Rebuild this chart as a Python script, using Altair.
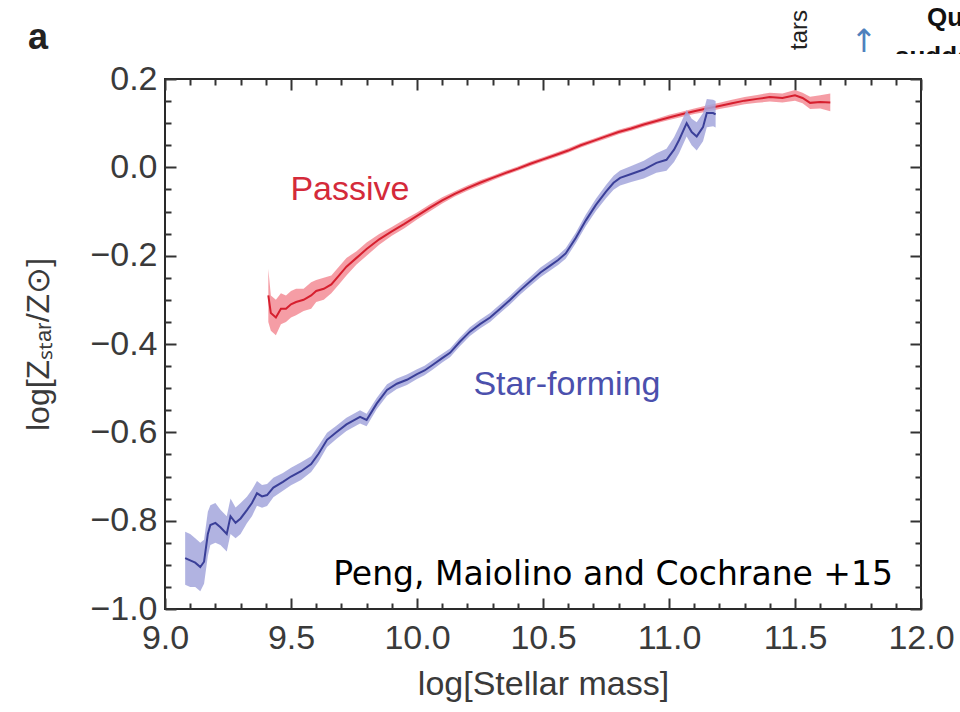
import altair as alt
import pandas as pd

# ---- data ----
red_mass = [9.41, 9.42, 9.44, 9.46, 9.48, 9.50, 9.52, 9.55, 9.58, 9.60, 9.63, 9.66, 9.69, 9.72,
            9.76, 9.80, 9.85, 9.90, 9.95, 10.00, 10.05, 10.10, 10.15, 10.20, 10.25, 10.30, 10.35,
            10.40, 10.45, 10.50, 10.55, 10.60, 10.65, 10.70, 10.75, 10.80, 10.85, 10.90, 10.95,
            11.00, 11.05, 11.10, 11.15, 11.20, 11.25, 11.30, 11.35, 11.40, 11.45, 11.50, 11.53,
            11.56, 11.60, 11.64]
red_z = [-0.29, -0.33, -0.34, -0.32, -0.32, -0.31, -0.305, -0.30, -0.29, -0.28, -0.275, -0.265,
         -0.245, -0.225, -0.205, -0.185, -0.163, -0.145, -0.128, -0.110, -0.092, -0.075, -0.060,
         -0.047, -0.035, -0.024, -0.013, -0.003, 0.008, 0.018, 0.028, 0.038, 0.050, 0.060, 0.070,
         0.080, 0.088, 0.097, 0.105, 0.113, 0.120, 0.127, 0.133, 0.139, 0.145, 0.151, 0.155,
         0.159, 0.157, 0.163, 0.157, 0.146, 0.148, 0.147]
red_err = [0.06, 0.04, 0.04, 0.035, 0.03, 0.03, 0.03, 0.025, 0.03, 0.025, 0.025, 0.02, 0.02, 0.02,
           0.015, 0.015, 0.012, 0.010, 0.010, 0.008, 0.008, 0.007, 0.006, 0.006, 0.006, 0.005,
           0.005, 0.005, 0.005, 0.005, 0.005, 0.005, 0.005, 0.005, 0.005, 0.005, 0.005, 0.005,
           0.005, 0.006, 0.006, 0.006, 0.007, 0.007, 0.008, 0.008, 0.009, 0.010, 0.010, 0.012,
           0.012, 0.014, 0.015, 0.020]

blue_mass = [9.08, 9.10, 9.12, 9.14, 9.155, 9.17, 9.18, 9.20, 9.22, 9.245, 9.26, 9.28, 9.30,
             9.325, 9.345, 9.365, 9.385, 9.405, 9.43, 9.468, 9.50, 9.54, 9.58, 9.61, 9.643, 9.68,
             9.72, 9.774, 9.80, 9.84, 9.881, 9.92, 9.96, 10.00, 10.03, 10.063, 10.10, 10.131,
             10.17, 10.21, 10.25, 10.29, 10.33, 10.37, 10.41, 10.45, 10.49, 10.53, 10.56, 10.59,
             10.63, 10.67, 10.71, 10.75, 10.78, 10.806, 10.85, 10.90, 10.95, 10.99, 11.02, 11.04,
             11.07, 11.09, 11.11, 11.135, 11.15, 11.175, 11.185]
blue_z = [-0.885, -0.89, -0.895, -0.905, -0.893, -0.83, -0.81, -0.805, -0.815, -0.83, -0.79,
          -0.805, -0.795, -0.776, -0.76, -0.738, -0.745, -0.742, -0.725, -0.712, -0.70, -0.688,
          -0.672, -0.648, -0.617, -0.600, -0.582, -0.565, -0.572, -0.535, -0.504, -0.49, -0.481,
          -0.468, -0.46, -0.447, -0.432, -0.42, -0.395, -0.372, -0.355, -0.34, -0.32, -0.30,
          -0.278, -0.258, -0.238, -0.222, -0.21, -0.195, -0.16, -0.12, -0.085, -0.055, -0.035,
          -0.024, -0.015, -0.005, 0.01, 0.017, 0.04, 0.062, 0.10, 0.08, 0.07, 0.091, 0.123,
          0.123, 0.12]
blue_err = [0.06, 0.06, 0.055, 0.055, 0.05, 0.05, 0.045, 0.045, 0.04, 0.04, 0.04, 0.035, 0.035,
            0.03, 0.03, 0.028, 0.026, 0.025, 0.022, 0.02, 0.02, 0.02, 0.018, 0.018, 0.016, 0.015,
            0.015, 0.015, 0.014, 0.013, 0.013, 0.012, 0.012, 0.011, 0.011, 0.011, 0.010, 0.010,
            0.010, 0.010, 0.010, 0.010, 0.010, 0.010, 0.010, 0.010, 0.011, 0.011, 0.011, 0.012,
            0.012, 0.013, 0.014, 0.015, 0.016, 0.017, 0.018, 0.020, 0.022, 0.025, 0.028, 0.030,
            0.030, 0.030, 0.032, 0.032, 0.032, 0.030, 0.030]

x_major = [9.0, 9.5, 10.0, 10.5, 11.0, 11.5, 12.0]
x_minor = [9.1, 9.2, 9.3, 9.4, 9.6, 9.7, 9.8, 9.9, 10.1, 10.2, 10.3, 10.4, 10.6, 10.7, 10.8,
           10.9, 11.1, 11.2, 11.3, 11.4, 11.6, 11.7, 11.8, 11.9]
y_major = [-1.0, -0.8, -0.6, -0.4, -0.2, 0.0, 0.2]
y_minor = [-0.95, -0.9, -0.85, -0.75, -0.7, -0.65, -0.55, -0.5, -0.45, -0.35, -0.3, -0.25,
           -0.15, -0.1, -0.05, 0.05, 0.1, 0.15]

label_text = ["Passive", "Star-forming", "Peng, Maiolino and Cochrane +15"]
label_x = [9.734, 10.595, 10.778]
label_y = [-0.051, -0.493, -0.923]

red = pd.DataFrame({"mass": red_mass, "z": red_z,
                    "lo": [a - b for a, b in zip(red_z, red_err)],
                    "hi": [a + b for a, b in zip(red_z, red_err)]})
blue = pd.DataFrame({"mass": blue_mass, "z": blue_z,
                     "lo": [a - b for a, b in zip(blue_z, blue_err)],
                     "hi": [a + b for a, b in zip(blue_z, blue_err)]})

FONT = "Liberation Sans"
TXT = "#3a3a3a"
TICK = "#333333"
FS = 34

xs = alt.Scale(domain=[9.0, 12.0], nice=False, zero=False)
ys = alt.Scale(domain=[-1.0, 0.2], nice=False, zero=False)


def axis(orient, values, size, labels=False, title="", **kw):
    return alt.Axis(orient=orient, values=values, tickSize=size, offset=-size, domain=False,
                    grid=False, labels=labels, title=title, tickColor=TICK, tickWidth=2,
                    labelFont=FONT, labelFontSize=FS, labelColor=TXT, labelFlush=False,
                    labelOverlap=False, format=".1f", titleFont=FONT,
                    titleColor=TXT, titleFontWeight="normal", **kw)


ax_xb_major = axis("bottom", x_major, 11, labels=True, title="log[Stellar mass]",
                   labelPadding=12, titlePadding=12, titleFontSize=34)
ax_xb_minor = axis("bottom", x_minor, 6)
ax_xt_major = axis("top", x_major, 11)
ax_xt_minor = axis("top", x_minor, 6)
ax_yl_major = axis("left", y_major, 11, labels=True, title="log[Zₛₜₐᵣ/Z⊙]",
                   labelPadding=8, titlePadding=34, titleFontSize=32)
ax_yl_minor = axis("left", y_minor, 6)
ax_yr_major = axis("right", y_major, 11)
ax_yr_minor = axis("right", y_minor, 6)

band_red = alt.Chart(red).mark_area(color="#f3858e", opacity=0.8).encode(
    x=alt.X("mass:Q", scale=xs, axis=ax_xb_major),
    y=alt.Y("lo:Q", scale=ys, axis=ax_yl_major),
    y2="hi:Q")
line_red = alt.Chart(red).mark_line(color="#d61f2e", strokeWidth=2).encode(
    x=alt.X("mass:Q", scale=xs, axis=ax_xb_minor),
    y=alt.Y("z:Q", scale=ys, axis=ax_yl_minor))
band_blue = alt.Chart(blue).mark_area(color="#a3a6dc", opacity=0.85).encode(
    x=alt.X("mass:Q", scale=xs, axis=ax_xt_major),
    y=alt.Y("lo:Q", scale=ys, axis=ax_yr_major),
    y2="hi:Q")
line_blue = alt.Chart(blue).mark_line(color="#3a3f98", strokeWidth=2).encode(
    x=alt.X("mass:Q", scale=xs, axis=ax_xt_minor),
    y=alt.Y("z:Q", scale=ys, axis=ax_yr_minor))

labels = pd.DataFrame({"x": label_x, "y": label_y, "t": label_text})
lab_passive = alt.Chart(labels.iloc[[0]]).mark_text(
    font=FONT, fontSize=34, color="#d42a3a").encode(
    x=alt.X("x:Q", scale=xs, axis=None), y=alt.Y("y:Q", scale=ys, axis=None), text="t:N")
lab_sf = alt.Chart(labels.iloc[[1]]).mark_text(
    font=FONT, fontSize=34, color="#4b50ad").encode(
    x=alt.X("x:Q", scale=xs, axis=None), y=alt.Y("y:Q", scale=ys, axis=None), text="t:N")
lab_ref = alt.Chart(labels.iloc[[2]]).mark_text(
    font="Comic Sans MS, DejaVu Sans", fontSize=33, color="black").encode(
    x=alt.X("x:Q", scale=xs, axis=None), y=alt.Y("y:Q", scale=ys, axis=None), text="t:N")

one = pd.DataFrame({"k": [0]})
panel_a = alt.Chart(one).mark_text(font=FONT, fontSize=36, fontWeight="bold",
                                   color="#222222").encode(
    x=alt.value(-127), y=alt.value(-41), text=alt.value("a"))
frag_tars = alt.Chart(one).mark_text(font="Liberation Sans", fontSize=24, angle=270,
                                     color="#222222").encode(
    x=alt.value(635), y=alt.value(-49), text=alt.value("tars"))
frag_arrow = alt.Chart(one).mark_text(font="DejaVu Sans", fontSize=32,
                                      color="#4f81bd").encode(
    x=alt.value(699), y=alt.value(-37), text=alt.value("↑"))
frag_qu = alt.Chart(one).mark_text(font="Liberation Sans", fontSize=26, fontWeight="bold",
                                   align="left", color="#111111").encode(
    x=alt.value(762), y=alt.value(-61), text=alt.value("Qu"))
frag_sud = alt.Chart(one).mark_text(font="Liberation Sans", fontSize=26, fontWeight="bold",
                                    align="left", baseline="alphabetic",
                                    color="#111111").encode(
    x=alt.value(730), y=alt.value(-14), text=alt.value("sudde"))
frag_mask = alt.Chart(one).mark_rect(color="white").encode(
    x=alt.value(700), x2=alt.value(800), y=alt.value(-25), y2=alt.value(-3))

chart = alt.layer(
    band_red, line_red, band_blue, line_blue,
    lab_passive, lab_sf, lab_ref, panel_a,
    frag_tars, frag_arrow, frag_qu, frag_sud, frag_mask
).resolve_axis(x="independent", y="independent").properties(
    width=756, height=530,
    padding={"left": 165, "top": 79, "right": 39, "bottom": 103},
    autosize=alt.AutoSizeParams(type="none"),
    background="white",
).configure_view(stroke="#2a2a2a", strokeWidth=2)

chart.save("out.html", embed_options={"renderer": "svg", "actions": False})
